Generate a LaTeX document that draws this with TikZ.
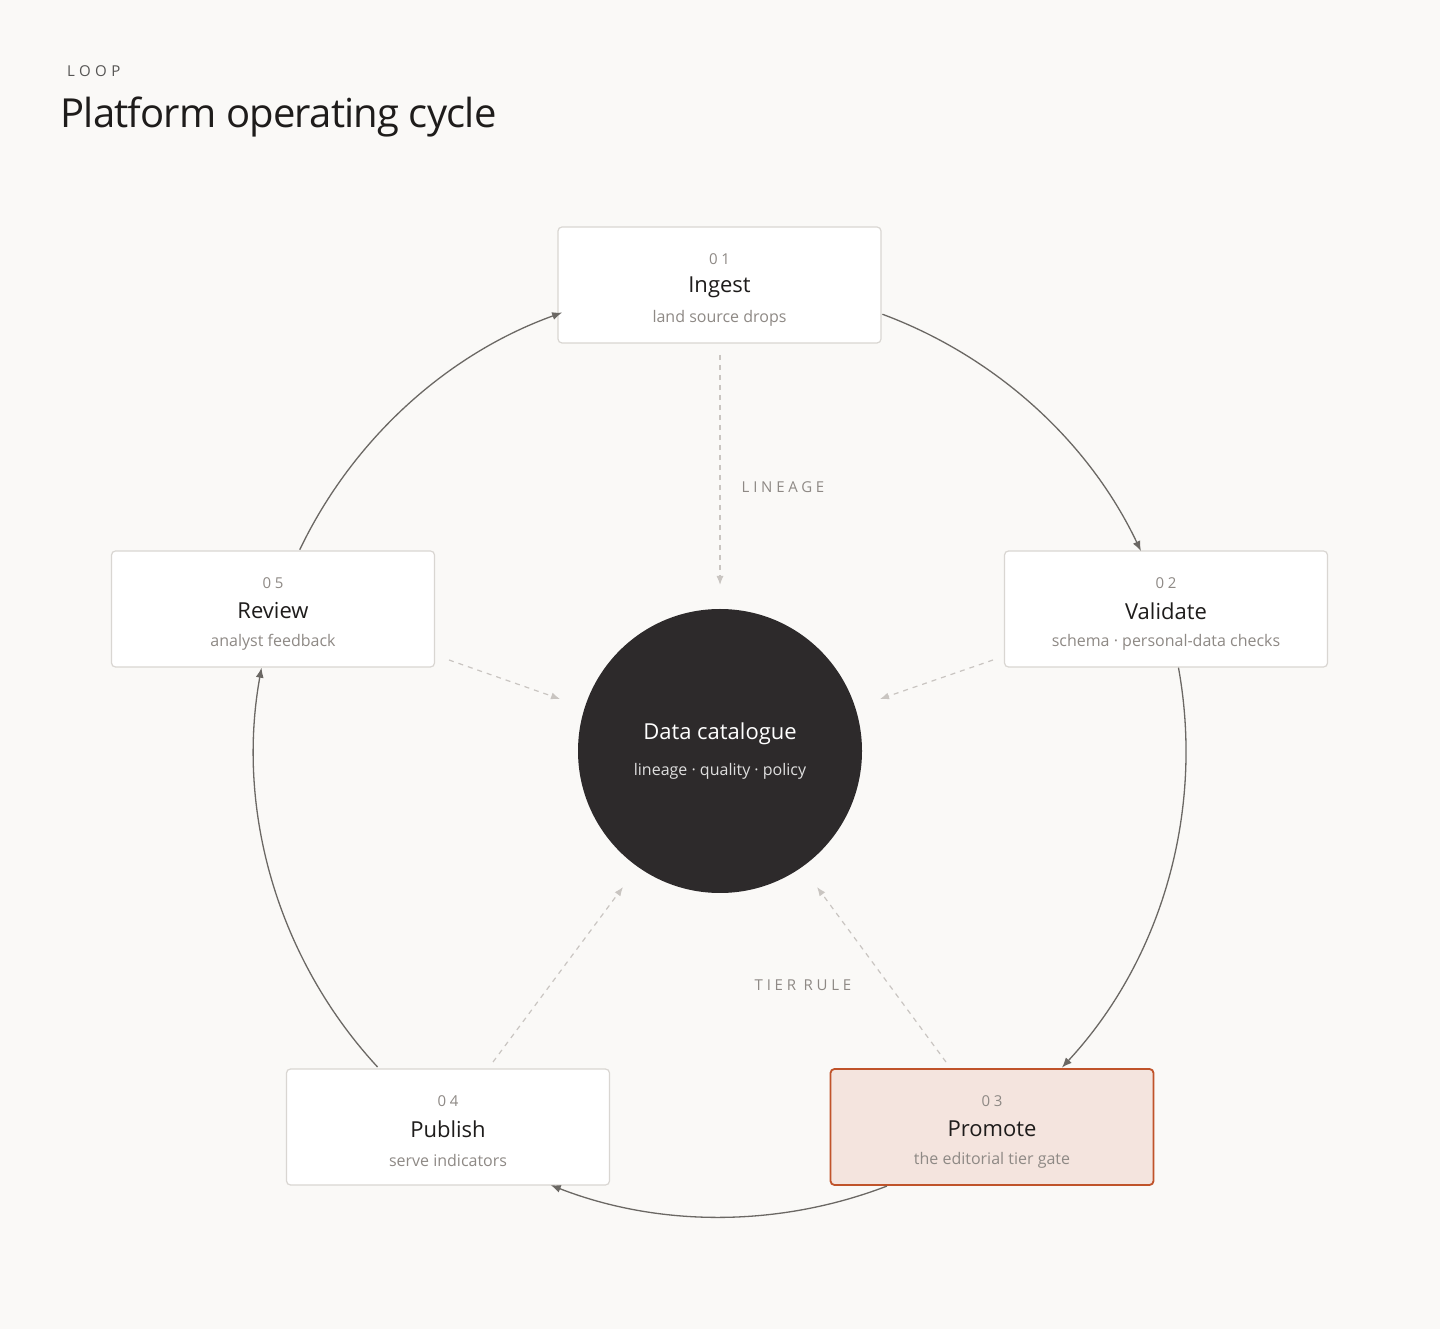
\documentclass[tikz,border=0pt]{standalone}
\usepackage{fontspec}
\setmainfont{Open Sans}
\usetikzlibrary{arrows.meta}
\definecolor{bg}{HTML}{FAF9F7}
\definecolor{bord}{HTML}{D9D6D2}
\definecolor{ink}{HTML}{1E1C1B}
\definecolor{mute}{HTML}{8E8985}
\definecolor{cyc}{HTML}{6B6864}
\definecolor{dash}{HTML}{C9C5C1}
\definecolor{hub}{HTML}{2D2A2B}
\definecolor{pfill}{HTML}{F4E4DE}
\definecolor{pbord}{HTML}{C0532A}
\begin{document}
\begin{tikzpicture}[x=0.5pt,y=0.5pt,
  box/.style={draw=bord,fill=white,rounded corners=2pt,line width=0.6pt,minimum width=161.5pt,minimum height=58pt},
  num/.style={font=\fontsize{7.5}{9}\selectfont\addfontfeature{LetterSpace=25},text=mute},
  ttl/.style={font=\fontsize{11}{13}\selectfont,text=ink},
  sub/.style={font=\fontsize{8}{10}\selectfont,text=mute},
  cycle/.style={draw=cyc,line width=0.65pt,-{Latex[length=5pt,width=4pt]}},
  spoke/.style={draw=dash,line width=0.6pt,dash pattern=on 2.5pt off 2.5pt,-{Latex[length=4.5pt,width=3.5pt]},shorten <=0pt},
  lab/.style={font=\fontsize{7.5}{9}\selectfont\addfontfeature{LetterSpace=25},text=mute}]
\fill[bg] (0,0) rectangle (1440,1329);
\useasboundingbox (0,0) rectangle (1440,1329);
\node[anchor=west,font=\fontsize{7.5}{9}\selectfont\addfontfeature{LetterSpace=30},text=ink!75] (kick) at (60,1258) {LOOP};
\node[anchor=west,font=\fontsize{20}{24}\selectfont,text=ink,inner sep=0pt] (title) at (60,1212) {\addfontfeature{LetterSpace=-2}Platform operating cycle};
\coordinate (C) at (720,578);
% boxes
\node[box] (ingest) at (719.5,1044) {};
\node[box] (validate) at (1166,720) {};
\node[box] (review) at (273,720) {};
\node[box] (publish) at (448,202) {};
\node[box,draw=pbord,fill=pfill,line width=0.9pt] (promote) at (992,202) {};
\foreach \n/\k/\t/\s in {ingest/01/Ingest/land source drops, validate/02/Validate/schema · personal-data checks, review/05/Review/analyst feedback, publish/04/Publish/serve indicators, promote/03/Promote/the editorial tier gate}{
  \node[num] (\n-n) at ([yshift=13pt]\n.center) {\k};
  \node[ttl] (\n-t) at ([yshift=-1pt]\n.center) {\t};
  \node[sub] (\n-s) at ([yshift=-16.5pt]\n.center) {\s};
}
\node[circle,fill=hub,minimum size=142pt,inner sep=0pt] (hub) at (C) {};
\node[font=\fontsize{11}{13}\selectfont,text=white] (hub-t) at (720,595) {Data catalogue};
\node[font=\fontsize{8}{10}\selectfont,text=white!85!hub] (hub-s) at (720,558) {lineage · quality · policy};
% cycle arcs
\draw[cycle] ([shift={(69.6:466)}]C) arc[start angle=69.6,end angle=25.4,radius=466];
\draw[cycle] ([shift={(10.3:466)}]C) arc[start angle=10.3,end angle=-42.8,radius=466];
\draw[cycle] ([shift={(-69:466)}]C) arc[start angle=-69,end angle=-111.3,radius=466];
\draw[cycle] ([shift={(-137.3:466)}]C) arc[start angle=-137.3,end angle=-190.3,radius=466];
\draw[cycle] ([shift={(154.4:466)}]C) arc[start angle=154.4,end angle=109.8,radius=466];
% spokes
\coordinate (s1a) at (720,974); \coordinate (s1b) at (720,744);
\coordinate (s2a) at (993,669); \coordinate (s2b) at (880,630);
\coordinate (s5a) at (449,669); \coordinate (s5b) at (560,630);
\coordinate (s4a) at (493,267); \coordinate (s4b) at (623,442);
\coordinate (s3a) at (946,267); \coordinate (s3b) at (817,442);
\draw[spoke] (s1a) -- (s1b);
\draw[spoke] (s2a) -- (s2b);
\draw[spoke] (s5a) -- (s5b);
\draw[spoke] (s4a) -- (s4b);
\draw[spoke] (s3a) -- (s3b);
\node[lab] (l1) at (783,842) {LINEAGE};
\node[lab] (l2) at (803,344) {TIER RULE};
\end{tikzpicture}
\end{document}
